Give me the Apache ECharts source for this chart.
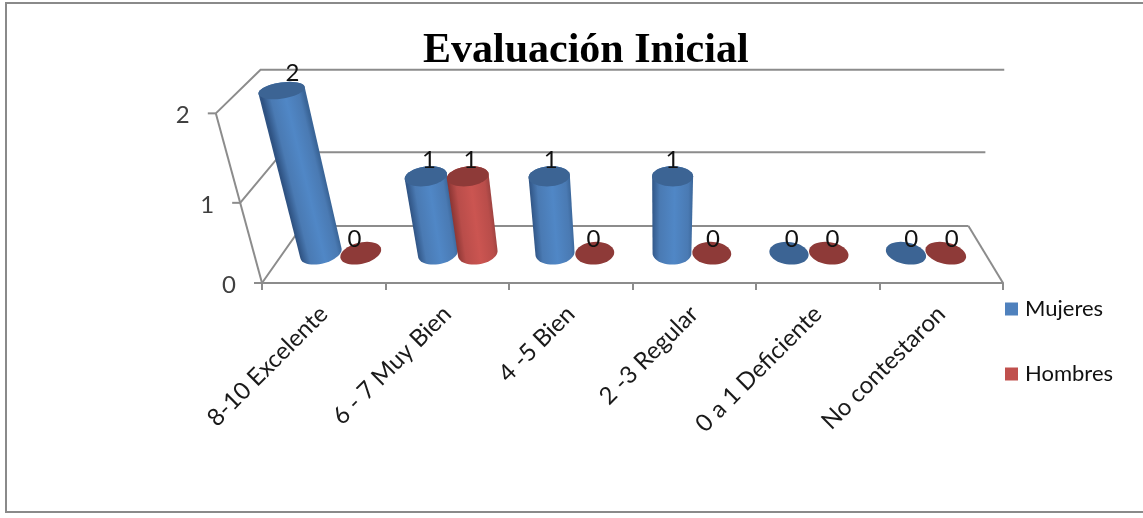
<!DOCTYPE html>
<html>
<head>
<meta charset="utf-8">
<style>html,body{margin:0;padding:0;background:#fff}#chart{width:1143px;height:518px}</style>
<script src="https://cdn.jsdelivr.net/npm/echarts@6/dist/echarts.min.js"></script>
</head>
<body>
<div id="chart"></div>
<script>
const chartTitle = 'Evaluación Inicial';
const categories = ['8-10 Excelente', '6 - 7 Muy Bien', '4 -5 Bien', '2 -3 Regular', '0 a 1 Deficiente', 'No contestaron'];
const mujeres = [2, 1, 1, 1, 0, 0];
const hombres = [0, 1, 0, 0, 0, 0];
const valueTicks = [0, 1, 2];

// Camera of the 3D box: vanishing column, foreshortening with height and with depth
const vanishX = 660;
const heightPersp = 0.052;
const depthPersp = 0.112;
const depthRise = 57;
const depthLift = 0.086;
const barDepth = 0.5;
const depthRadius = 0.2;

// Projects a plot point (px on the floor front edge, height in px, depth 0..1)
function project(xu, baseY, h, v, d) {
  const s = 1 / (1 - heightPersp * v);
  const k = s / (1 + depthPersp * d);
  const floorRise = depthRise * d * (1 + depthPersp) / (1 + depthPersp * d);
  return [
    vanishX + (xu - vanishX) * k,
    baseY - floorRise - h * s / (1 + depthLift * d)
  ];
}

function ring(xu, baseY, h, v, r) {
  const pts = [];
  for (let i = 0; i < 48; i++) {
    const t = i / 48 * Math.PI * 2;
    pts.push(project(xu + r * Math.cos(t), baseY, h, v, barDepth + depthRadius * Math.sin(t)));
  }
  return pts;
}

function hull(points) {
  const p = points.slice().sort((a, b) => a[0] - b[0] || a[1] - b[1]);
  const cross = (o, a, b) => (a[0] - o[0]) * (b[1] - o[1]) - (a[1] - o[1]) * (b[0] - o[0]);
  const lo = [], up = [];
  for (const q of p) {
    while (lo.length > 1 && cross(lo[lo.length - 2], lo[lo.length - 1], q) <= 0) lo.pop();
    lo.push(q);
  }
  for (let i = p.length - 1; i >= 0; i--) {
    const q = p[i];
    while (up.length > 1 && cross(up[up.length - 2], up[up.length - 1], q) <= 0) up.pop();
    up.push(q);
  }
  return lo.slice(0, -1).concat(up.slice(0, -1));
}

// One cylinder per value: shaded body from floor ring to top ring, darker cap and value label
function cylinderRenderer(offsetShare, palette) {
  return function (params, api) {
    const i = api.value(0), v = api.value(1);
    const base = api.coord([i, 0]);
    const top = api.coord([i, v]);
    const band = api.size([1, 0])[0];
    const xu = base[0] + offsetShare * band;
    const r = band * 0.166;
    const h = base[1] - top[1];
    const children = [];
    const topRing = ring(xu, base[1], h, v, r);
    if (v > 0) {
      const low = ring(xu, base[1], 0, 0, r);
      const c0 = project(xu, base[1], 0, 0, barDepth);
      const c1 = project(xu, base[1], h, v, barDepth);
      const ax = c1[0] - c0[0], ay = c1[1] - c0[1], len = Math.hypot(ax, ay);
      const nx = -ay / len, ny = ax / len;
      const mx = (c0[0] + c1[0]) / 2, my = (c0[1] + c1[1]) / 2;
      const half = r * 1.02 * Math.sign(nx || 1);
      children.push({
        type: 'polygon',
        shape: { points: hull(low.concat(topRing)) },
        style: {
          fill: new echarts.graphic.LinearGradient(
            mx - nx * half, my - ny * half, mx + nx * half, my + ny * half,
            [
              { offset: 0, color: palette.edge },
              { offset: 0.2, color: palette.side },
              { offset: 0.55, color: palette.light },
              { offset: 0.88, color: palette.side },
              { offset: 1, color: palette.shade }
            ], true)
        }
      });
    }
    children.push({ type: 'polygon', shape: { points: topRing }, style: { fill: palette.cap } });
    const anchor = project(xu, base[1], h * 0.75, v * 0.75, v === 0 ? 0.3 : barDepth);
    const capY = project(xu, base[1], h, v, barDepth)[1];
    children.push({
      type: 'text',
      z2: 10,
      style: {
        x: anchor[0], y: capY - 14 - 1.5 * v,
        text: String(v),
        fill: '#111',
        font: '24px Lato',
        align: 'center', verticalAlign: 'middle'
      }
    });
    return { type: 'group', children };
  };
}

// Floor, side wall, gridlines and value ticks of the box
function renderBox(params, api) {
  const v = api.value(1);
  const cs = params.coordSys;
  const base = api.coord([0, 0])[1];
  const h = base - api.coord([0, v])[1];
  const left = cs.x, right = cs.x + cs.width;
  const front = project(left, base, h, v, 0);
  const back = project(left, base, h, v, 1);
  const backR = project(right, base, h, v, 1);
  const line = { stroke: '#8c8c8c', lineWidth: 2, fill: null };
  const children = [
    { type: 'polyline', shape: { points: [front, back, backR] }, style: line },
    { type: 'line', shape: { x1: front[0] - 8, y1: front[1], x2: front[0], y2: front[1] }, style: line },
    {
      type: 'text',
      style: {
        x: front[0] - 33, y: front[1] + 2,
        text: String(v), fill: '#404040', font: '24px Lato',
        align: 'center', verticalAlign: 'middle'
      }
    }
  ];
  if (v === 0) {
    children.push({
      type: 'line',
      shape: { x1: right, y1: base, x2: backR[0], y2: backR[1] },
      style: line
    });
  } else {
    const h0 = base - api.coord([0, v - 1])[1];
    const prev = project(left, base, h0, v - 1, 0);
    children.push({ type: 'line', shape: { x1: prev[0], y1: prev[1], x2: front[0], y2: front[1] }, style: line });
  }
  return { type: 'group', children };
}

const chart = echarts.init(document.getElementById('chart'), null, { renderer: 'canvas' });
chart.setOption({
  animation: false,
  backgroundColor: '#fff',
  graphic: [{
    type: 'rect',
    shape: { x: 6, y: 3, width: 1160, height: 509 },
    style: { fill: 'transparent', stroke: '#8a8a8a', lineWidth: 2 },
    silent: true
  }],
  title: {
    text: chartTitle,
    left: 423, top: 30, padding: 0,
    textStyle: { fontFamily: 'Liberation Serif', fontWeight: 'bold', fontSize: 42, color: '#000' }
  },
  legend: {
    data: ['Mujeres', 'Hombres'],
    orient: 'vertical',
    left: 1005, top: 298, padding: 0,
    itemWidth: 13, itemHeight: 13, itemGap: 43,
    icon: 'rect',
    textStyle: { fontFamily: 'Lato', fontSize: 22, color: '#111', padding: [0, 0, 0, 2] }
  },
  grid: { left: 262, top: 131, width: 741, height: 152 },
  xAxis: {
    type: 'category',
    data: categories,
    boundaryGap: true,
    axisLine: { lineStyle: { color: '#8c8c8c', width: 2 } },
    axisTick: { show: true, length: 7, alignWithLabel: false, interval: 0, lineStyle: { color: '#8c8c8c', width: 2 } },
    axisLabel: { interval: 0, rotate: 45, margin: 27, fontFamily: 'Lato', fontSize: 24, color: '#1a1a1a' }
  },
  yAxis: { type: 'value', min: 0, max: 2, interval: 1, show: false },
  series: [
    {
      type: 'custom', name: 'box', coordinateSystem: 'cartesian2d', silent: true, z: 1,
      renderItem: renderBox,
      encode: { x: 0, y: 1 },
      data: valueTicks.map(v => [0, v])
    },
    {
      type: 'custom', name: 'Mujeres', coordinateSystem: 'cartesian2d', z: 2,
      itemStyle: { color: '#4f81bd' },
      renderItem: cylinderRenderer(-0.175, { edge: '#2f5383', side: '#4a7ab3', light: '#5087c6', shade: '#3a6598', cap: '#3c6494' }),
      encode: { x: 0, y: 1 },
      data: mujeres.map((v, i) => [i, v])
    },
    {
      type: 'custom', name: 'Hombres', coordinateSystem: 'cartesian2d', z: 3,
      itemStyle: { color: '#c0504d' },
      renderItem: cylinderRenderer(0.165, { edge: '#8a3533', side: '#b94d4a', light: '#cb5551', shade: '#9c4240', cap: '#8e3a38' }),
      encode: { x: 0, y: 1 },
      data: hombres.map((v, i) => [i, v])
    }
  ]
});
</script>
</body>
</html>
